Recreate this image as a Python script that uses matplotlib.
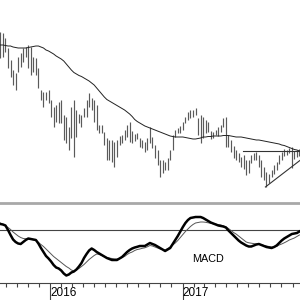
import pandas as pd
import matplotlib
matplotlib.use("Agg")
import matplotlib.pyplot as plt
import matplotlib.dates as mdates

plt.rcParams["font.family"] = ["Liberation Sans", "DejaVu Sans"]

# weekly bars, first week of the chart
start_week = "2015-08-17"

highs = [168, 167, 162, 152, 140, 130, 127, 143, 147, 152, 153, 155, 153, 143, 142, 132,
         110, 108, 108, 110, 100, 93, 95, 98, 100, 85, 83, 73, 93, 100, 90, 86,
         85, 92, 100, 107, 102, 100, 95, 75, 75, 68, 62, 60, 60, 58, 60, 64,
         65, 70, 75, 78, 69, 66, 67, 62, 60, 58, 62, 73, 63, 55, 50, 40,
         40, 38, 42, 50, 65, 70, 72, 74, 78, 83, 88, 90, 90, 92, 82, 85,
         83, 80, 78, 69, 68, 70, 73, 75, 82, 83, 65, 60, 54, 50, 47, 43,
         45, 40, 40, 45, 47, 48, 45, 40, 33, 28, 26, 30, 35, 38, 45, 48,
         51, 50, 52, 53, 49, 50, 51]
lows = [142, 143, 148, 132, 123, 115, 110, 128, 133, 138, 143, 132, 125, 128, 125, 112,
        100, 93, 100, 97, 83, 73, 78, 77, 77, 60, 57, 50, 62, 43, 63, 77,
        73, 83, 83, 93, 90, 78, 70, 67, 67, 55, 40, 40, 38, 33, 43, 55,
        57, 60, 63, 58, 57, 59, 61, 53, 52, 48, 50, 57, 52, 42, 35, 23,
        27, 30, 30, 40, 50, 63, 67, 67, 70, 77, 80, 82, 83, 85, 65, 57,
        62, 67, 68, 61, 62, 65, 64, 68, 73, 53, 53, 48, 42, 40, 38, 33,
        31, 25, 27, 37, 40, 40, 33, 23, 20, 13, 17, 23, 26, 30, 36, 40,
        44, 45, 47, 32, 41, 43, 44]
moving_avg = [155, 155, 154.5, 154, 154, 153, 152.5, 152, 152, 152, 152, 152.5, 153, 153.5, 154, 154,
              153, 152, 150, 149, 147.5, 146, 144, 142.5, 141, 139, 136, 133, 130, 127.5, 126, 124.5,
              123.5, 122, 120.5, 119, 117, 115, 112, 109, 106, 103, 100.5, 99, 97.5, 96, 94.5, 93,
              91.5, 90, 88, 86, 83.5, 80.5, 78.5, 77, 75.5, 74, 73, 72, 71, 70, 69, 68,
              67, 66, 65, 64, 63.5, 63, 63, 63, 63, 62.5, 62, 61.5, 61, 61, 61.5, 62,
              63, 63, 63.5, 63.5, 64, 64, 64, 64, 64.5, 64.5, 64.5, 64, 63.5, 63, 63, 63,
              62.5, 62, 61.5, 61, 60.5, 60, 60, 59.5, 59, 58.5, 58, 57.5, 57, 56.5, 56, 55,
              54.5, 53.5, 52.5, 51.5, 50.5, 50, 49]

macd = [0.6, 0.55, 0.45, 0.0, -0.5, -0.95, -1.2, -1.35, -1.4, -1.2, -1.0, -0.85, -0.9, -0.95, -1.0, -1.35,
        -1.8, -2.2, -2.6, -2.85, -3.15, -3.5, -3.75, -3.85, -4.05, -4.35, -4.55, -4.45, -4.25, -4.15, -3.95, -3.65,
        -3.3, -2.8, -2.4, -2.05, -1.85, -2.0, -2.2, -2.35, -2.5, -2.65, -2.8, -2.9, -3.0, -3.0, -3.0, -2.85,
        -2.7, -2.45, -2.2, -2.0, -1.85, -1.75, -1.68, -1.6, -1.6, -1.6, -1.45, -1.3, -1.4, -1.5, -1.65, -1.8,
        -1.95, -2.1, -1.95, -1.8, -1.4, -1.0, -0.6, -0.15, 0.3, 0.7, 1.0, 1.2, 1.25, 1.3, 1.3, 1.3,
        1.2, 1.05, 0.9, 0.75, 0.65, 0.55, 0.45, 0.4, 0.35, 0.25, -0.05, -0.3, -0.55, -0.8, -1.05, -1.25,
        -1.4, -1.55, -1.65, -1.65, -1.55, -1.45, -1.4, -1.5, -1.6, -1.7, -1.75, -1.8, -1.7, -1.55, -1.3, -1.05,
        -0.85, -0.7, -0.55, -0.4, -0.35, -0.3, -0.15]
signal = [0.7, 0.55, 0.4, 0.25, 0.05, -0.2, -0.4, -0.6, -0.75, -0.85, -0.88, -0.9, -0.93, -0.98, -1.05, -1.25,
          -1.45, -1.65, -1.9, -2.15, -2.4, -2.65, -2.85, -3.05, -3.25, -3.45, -3.65, -3.8, -4.0, -4.1, -4.0, -3.85,
          -3.65, -3.45, -3.2, -2.95, -2.75, -2.55, -2.4, -2.45, -2.55, -2.65, -2.75, -2.8, -2.85, -2.9, -2.9, -2.85,
          -2.75, -2.65, -2.45, -2.3, -2.2, -2.05, -1.95, -1.9, -1.83, -1.78, -1.68, -1.55, -1.6, -1.7, -1.8, -1.9,
          -1.95, -2.0, -1.85, -1.7, -1.5, -1.3, -1.05, -0.75, -0.45, -0.15, 0.1, 0.35, 0.55, 0.7, 0.75, 0.8,
          0.8, 0.77, 0.72, 0.67, 0.62, 0.58, 0.54, 0.5, 0.4, 0.3, 0.15, -0.05, -0.25, -0.4, -0.6, -0.8,
          -1.0, -1.2, -1.28, -1.32, -1.36, -1.4, -1.43, -1.47, -1.55, -1.6, -1.65, -1.7, -1.7, -1.65, -1.5, -1.4,
          -1.28, -1.15, -1.0, -0.9, -0.8, -0.65, -0.5]

# drawn support / resistance lines
resist_dates = ["2017-06-16", "2017-11-23"]
resist_vals = [49, 49]
trend_dates = ["2017-08-18", "2017-11-23"]
trend_vals = [13, 40]

dates = pd.date_range(start_week, periods=len(highs), freq="7D")

# x range: 2016-01-01 sits 50 px in, 2017-01-01 at ~182 px
px_per_day = 132.5 / 366
x_left = pd.Timestamp("2016-01-01") - pd.Timedelta(days=50 / px_per_day)
x_right = x_left + pd.Timedelta(days=300 / px_per_day)

fig = plt.figure(figsize=(3, 3), dpi=100)
ax = fig.add_axes([0, 97 / 300, 1, 203 / 300])
ax2 = fig.add_axes([0, 17 / 300, 1, 80 / 300], sharex=ax)

# price panel
ax.vlines(dates, lows, highs, color="#5a5a5a", lw=0.85)
ax.plot(dates, moving_avg, color="#222222", lw=0.7)
ax.plot(pd.to_datetime(resist_dates), resist_vals, color="#333333", lw=0.8)
ax.plot(pd.to_datetime(trend_dates), trend_vals, color="#333333", lw=0.8)
ax.set_ylim(-3, 200)
ax.set_xlim(x_left, x_right)
ax.axis("off")

# MACD panel
ax2.axhline(0, color="#444444", lw=0.8)
ax2.plot(dates, signal, color="#555555", lw=0.7)
ax2.plot(dates, macd, color="black", lw=1.8)
ax2.set_ylim(-5.3, 2.7)
ax2.text(pd.Timestamp("2017-03-12"), -2.9, "MACD", fontsize=7.8, ha="center", va="center")

for side in ["left", "right"]:
    ax2.spines[side].set_visible(False)
ax2.spines["top"].set_color("#a8a8a8")
ax2.spines["top"].set_linewidth(2)
ax2.spines["bottom"].set_color("#444444")
ax2.spines["bottom"].set_linewidth(0.8)
ax2.set_yticks([])

ax2.xaxis.set_major_locator(mdates.YearLocator())
ax2.xaxis.set_major_formatter(mdates.DateFormatter("%Y"))
ax2.xaxis.set_minor_locator(mdates.MonthLocator())
ax2.tick_params(axis="x", which="major", length=12.5, width=0.8, color="#444444",
                pad=-9.5, labelsize=8.5)
ax2.tick_params(axis="x", which="minor", length=3, width=0.8, color="#444444")
for lbl in ax2.get_xticklabels():
    lbl.set_ha("left")
ax2.set_xlim(x_left, x_right)

fig.savefig("out.png", dpi=100)
